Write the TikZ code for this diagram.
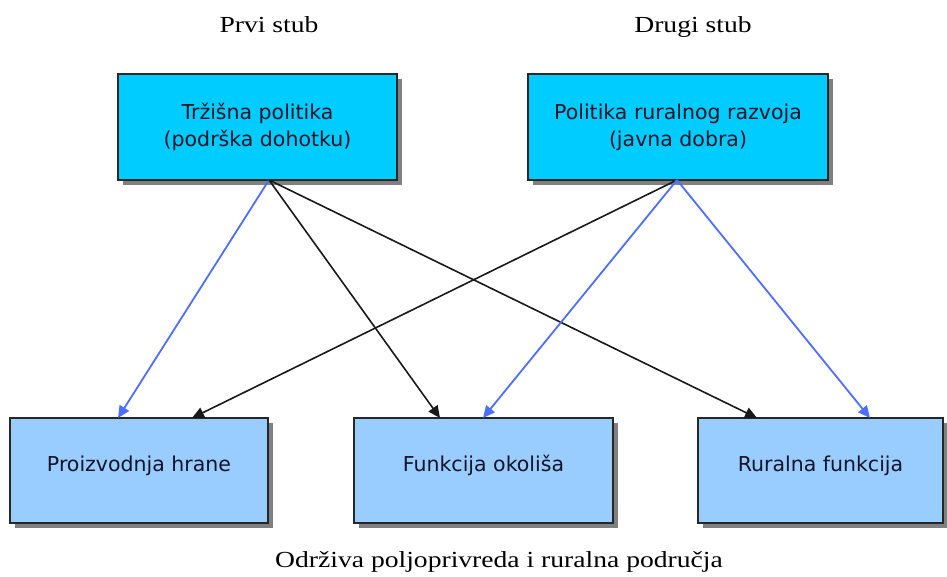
\documentclass[tikz,border=0pt]{standalone}
\usepackage{fontspec}
\setmainfont{Liberation Serif}
\newfontfamily\titlefont[FakeStretch=1.2]{Liberation Serif}
\newfontfamily\boxfont{DejaVu Sans}
\usetikzlibrary{arrows.meta,shadows}
\definecolor{topfill}{RGB}{0,204,255}
\definecolor{botfill}{RGB}{153,204,255}
\definecolor{arrblue}{RGB}{77,110,255}
\definecolor{shadowgray}{RGB}{128,128,128}
\definecolor{boxtext}{RGB}{20,20,40}
\begin{document}
\begin{tikzpicture}[x=1pt,y=-1pt,
  boxbase/.style={draw=black!85,line width=1.6pt,inner sep=0pt,align=center,text=boxtext,
    font=\boxfont\fontsize{20.5}{27}\selectfont,
    drop shadow={shadow xshift=5pt,shadow yshift=-5pt,fill=shadowgray,opacity=1}},
  topbox/.style={boxbase,fill=topfill},
  botbox/.style={boxbase,fill=botfill},
  title/.style={font=\titlefont\fontsize{23}{28}\selectfont,anchor=base,inner sep=0pt},
  blk/.style={draw=black!90,line width=1.6pt,-{Triangle[length=12pt,width=11pt]}},
  blu/.style={draw=arrblue,line width=1.8pt,-{Triangle[length=12pt,width=11pt]}}
]
\useasboundingbox (0,0) rectangle (947,577);
\node[topbox,minimum width=279pt,minimum height=106pt] (tl) at (257.5,127) {Tržišna politika\\(podrška dohotku)};
\node[topbox,minimum width=300pt,minimum height=106pt] (tr) at (678,127) {Politika ruralnog razvoja\\(javna dobra)};
\node[botbox,minimum width=258pt,minimum height=105pt] (bl) at (139,470.5) {Proizvodnja hrane\rule[-14pt]{0pt}{1pt}};
\node[botbox,minimum width=259pt,minimum height=105pt] (bm) at (483.5,470.5) {Funkcija okoliša\rule[-14pt]{0pt}{1pt}};
\node[botbox,minimum width=245pt,minimum height=105pt] (br) at (820.5,470.5) {Ruralna funkcija\rule[-14pt]{0pt}{1pt}};
\node[title] (t1) at (269,33) {Prvi stub};
\node[title] (t2) at (693,33) {Drugi stub};
\node[title] (t3) at (499,567) {Održiva poljoprivreda i ruralna područja};
\coordinate (s1) at (269,180);
\coordinate (s2) at (677,180);
\coordinate (e1) at (118,418);
\coordinate (e2) at (192,418);
\coordinate (e3) at (440,418);
\coordinate (e4) at (483,418);
\coordinate (e5) at (757,418);
\coordinate (e6) at (870,418);
\draw[blu] (s1) -- (e1);
\draw[blk] (s1) -- (e3);
\draw[blk] (s1) -- (e5);
\draw[blk] (s2) -- (e2);
\draw[blu] (s2) -- (e4);
\draw[blu] (s2) -- (e6);
\end{tikzpicture}
\end{document}
